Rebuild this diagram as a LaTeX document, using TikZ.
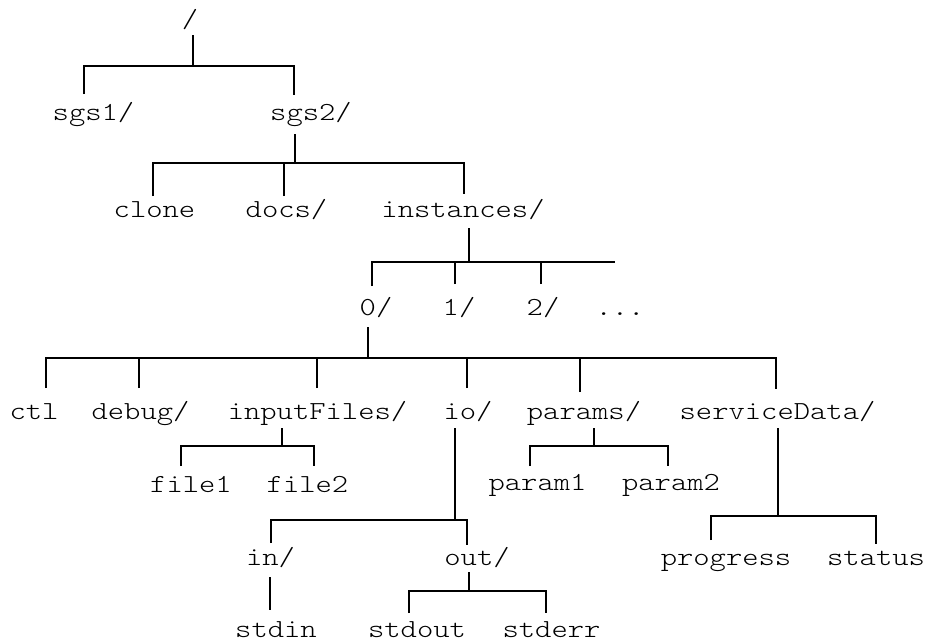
\documentclass[tikz,border=0pt]{standalone}
\usepackage{fontspec}
\newfontfamily\treefont[FakeStretch=1.195]{lmmonolt10-regular.otf}
\begin{document}
\begin{tikzpicture}[x=1pt,y=-1pt,
  entry/.style={font=\treefont\fontsize{26}{30}\selectfont, inner sep=0pt, anchor=base},
  branch/.style={line width=1.6pt, line join=miter}]
\useasboundingbox (0,0) rectangle (928,641);

% ---- directory and file names ----
\node[entry] (root)   at (190,27)    {/};
\node[entry] (sgs1)   at (93.5,120)  {sgs1/};
\node[entry] (sgs2)   at (311,120)   {sgs2/};
\node[entry] (clone)  at (154.5,217) {clone};
\node[entry] (docs)   at (286.5,217) {docs/};
\node[entry] (inst)   at (463,217)   {instances/};
\node[entry] (i0)     at (376,315)   {0/};
\node[entry] (i1)     at (459,315)   {1/};
\node[entry] (i2)     at (543,315)   {2/};
\node[entry] (more)   at (620,315)   {...};
\node[entry] (ctl)    at (34,419)    {ctl};
\node[entry] (debug)  at (140.5,419) {debug/};
\node[entry] (input)  at (317.5,419) {inputFiles/};
\node[entry] (io)     at (468,419)   {io/};
\node[entry] (params) at (584,419)   {params/};
\node[entry] (sdata)  at (777.5,419) {serviceData/};
\node[entry] (file1)  at (191,492)   {file1};
\node[entry] (file2)  at (307.5,492) {file2};
\node[entry] (param1) at (537.5,490) {param1};
\node[entry] (param2) at (671,490)   {param2};
\node[entry] (in)     at (270.5,565) {in/};
\node[entry] (out)    at (477,565)   {out/};
\node[entry] (progr)  at (726,565)   {progress};
\node[entry] (status) at (876,565)   {status};
\node[entry] (stdin)  at (276,637)   {stdin};
\node[entry] (stdout) at (417,637)   {stdout};
\node[entry] (stderr) at (551.5,637) {stderr};

% ---- stem ends below each parent and their junctions ----
\coordinate (root-s)   at (193,35);  \coordinate (root-j)   at (193,66);
\coordinate (sgs2-s)   at (295,134); \coordinate (sgs2-j)   at (295,163);
\coordinate (inst-s)   at (469,228); \coordinate (inst-j)   at (469,262);
\coordinate (i0-s)     at (368,327); \coordinate (i0-j)     at (368,358);
\coordinate (input-s)  at (282,428); \coordinate (input-j)  at (282,446);
\coordinate (io-s)     at (455,428); \coordinate (io-j)     at (455,520);
\coordinate (params-s) at (594,428); \coordinate (params-j) at (594,446);
\coordinate (sdata-s)  at (778,428); \coordinate (sdata-j)  at (778,516);
\coordinate (in-s)     at (270,577);
\coordinate (out-s)    at (469,572); \coordinate (out-j)    at (469,591);

% ---- tips above each child ----
\coordinate (sgs1-t)   at (84,94);   \coordinate (sgs2-t)   at (294,95);
\coordinate (clone-t)  at (153,196); \coordinate (docs-t)   at (284,196);
\coordinate (inst-t)   at (464,194);
\coordinate (i0-t)     at (372,286); \coordinate (i1-t)     at (455,284);
\coordinate (i2-t)     at (541,284); \coordinate (more-t)   at (615,262);
\coordinate (ctl-t)    at (46,388);  \coordinate (debug-t)  at (139,388);
\coordinate (input-t)  at (317,388); \coordinate (io-t)     at (467,388);
\coordinate (params-t) at (580,392); \coordinate (sdata-t)  at (776,389);
\coordinate (file1-t)  at (181,466); \coordinate (file2-t)  at (314,466);
\coordinate (param1-t) at (530,466); \coordinate (param2-t) at (668,466);
\coordinate (in-t)     at (271,543); \coordinate (out-t)    at (467,545);
\coordinate (progr-t)  at (711,540); \coordinate (status-t) at (876,544);
\coordinate (stdin-t)  at (270,610);
\coordinate (stdout-t) at (409,613); \coordinate (stderr-t) at (546,613);

% ---- branches ----
\draw[branch] (root-s) -- (root-j);
\draw[branch] (sgs1-t) |- (root-j) -| (sgs2-t);

\draw[branch] (sgs2-s) -- (sgs2-j);
\draw[branch] (clone-t) |- (sgs2-j) -| (inst-t);
\draw[branch] (docs-t) -- (docs-t |- sgs2-j);

\draw[branch] (inst-s) -- (inst-j);
\draw[branch] (i0-t) |- (more-t);
\draw[branch] (i1-t) -- (i1-t |- inst-j);
\draw[branch] (i2-t) -- (i2-t |- inst-j);

\draw[branch] (i0-s) -- (i0-j);
\draw[branch] (ctl-t) |- (i0-j) -| (sdata-t);
\draw[branch] (debug-t) -- (debug-t |- i0-j);
\draw[branch] (input-t) -- (input-t |- i0-j);
\draw[branch] (io-t) -- (io-t |- i0-j);
\draw[branch] (params-t) -- (params-t |- i0-j);

\draw[branch] (input-s) -- (input-j);
\draw[branch] (file1-t) |- (input-j) -| (file2-t);

\draw[branch] (io-s) -- (io-j);
\draw[branch] (in-t) |- (io-j) -| (out-t);

\draw[branch] (params-s) -- (params-j);
\draw[branch] (param1-t) |- (params-j) -| (param2-t);

\draw[branch] (sdata-s) -- (sdata-j);
\draw[branch] (progr-t) |- (sdata-j) -| (status-t);

\draw[branch] (in-s) -- (stdin-t);

\draw[branch] (out-s) -- (out-j);
\draw[branch] (stdout-t) |- (out-j) -| (stderr-t);
\end{tikzpicture}
\end{document}
